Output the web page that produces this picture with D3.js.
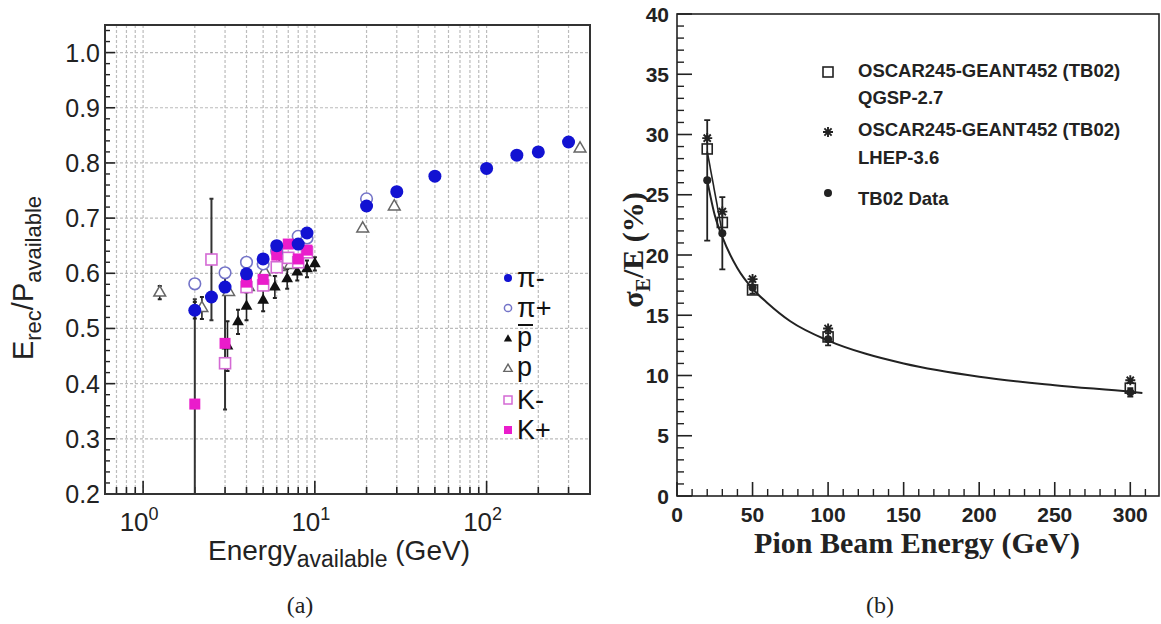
<!DOCTYPE html>
<html><head><meta charset="utf-8">
<script src="https://cdn.jsdelivr.net/npm/d3@7"></script>
<style>body{margin:0;background:#fff;} svg{display:block}</style>
</head><body>
<svg id="c" width="1161" height="624"></svg>
<script>
// ================= Panel (a) data =================
const piMinusE = [2.0, 2.5, 3.0, 4.0, 5.0, 6.0, 8.0, 9.0, 20, 30, 50, 100, 150, 200, 300];
const piMinusR = [0.533, 0.557, 0.575, 0.599, 0.626, 0.650, 0.653, 0.673, 0.722, 0.748, 0.776, 0.790, 0.814, 0.820, 0.838];
const piMinusErr = [0.015, 0, 0, 0, 0, 0, 0, 0, 0, 0, 0, 0, 0, 0, 0];

const piPlusE = [2.0, 3.0, 4.0, 5.0, 6.0, 8.0, 9.0, 20];
const piPlusR = [0.581, 0.601, 0.620, 0.617, 0.640, 0.667, 0.664, 0.735];

const pbarE = [3.1, 3.57, 4.0, 5.0, 5.85, 6.9, 7.9, 9.0, 10.0];
const pbarR = [0.468, 0.512, 0.540, 0.551, 0.575, 0.590, 0.602, 0.608, 0.617];
const pbarErr = [0.045, 0.022, 0.025, 0.02, 0.02, 0.018, 0.015, 0.015, 0.012];

const pE = [1.25, 2.2, 3.15, 4.1, 5.1, 6.2, 7.2, 19, 29, 350];
const pR = [0.565, 0.537, 0.566, 0.575, 0.602, 0.611, 0.615, 0.681, 0.721, 0.826];
const pErr = [0.012, 0.02, 0, 0, 0, 0, 0, 0, 0, 0];

const kMinusE = [2.5, 3.0, 4.0, 5.0, 6.0, 7.0, 8.0, 9.0];
const kMinusR = [0.625, 0.437, 0.575, 0.578, 0.611, 0.628, 0.620, 0.638];
const kMinusErr = [0.11, 0, 0, 0, 0, 0, 0, 0];

const kPlusE = [2.0, 3.0, 4.0, 5.0, 6.0, 7.0, 8.0, 9.0];
const kPlusR = [0.363, 0.473, 0.584, 0.589, 0.633, 0.653, 0.626, 0.642];
const kPlusErr = [0.19, 0.12, 0, 0, 0, 0, 0, 0];

const aXGrid = [0.7, 0.8, 0.9, 1, 2, 3, 4, 5, 6, 7, 8, 9, 10, 20, 30, 40, 50, 60, 70, 80, 90, 100, 200, 300];
const aXMajor = [1, 10, 100];
const aXMajorExp = ["0", "1", "2"];
const aYMajor = [0.2, 0.3, 0.4, 0.5, 0.6, 0.7, 0.8, 0.9, 1.0];
const aYMinor = [0.22,0.24,0.26,0.28,0.32,0.34,0.36,0.38,0.42,0.44,0.46,0.48,0.52,0.54,0.56,0.58,0.62,0.64,0.66,0.68,0.72,0.74,0.76,0.78,0.82,0.84,0.86,0.88,0.92,0.94,0.96,0.98,1.02,1.04];
const aLegend = ["π-", "π+", "p", "p", "K-", "K+"];

// ================= Panel (b) data =================
const bE = [20, 30, 50, 100, 300];
const qgspS = [28.8, 22.7, 17.1, 13.2, 8.95];
const lhepS = [29.7, 23.6, 18.0, 13.9, 9.6];
const tb02S = [26.2, 21.8, 17.3, 13.0, 8.6];
const tb02Err = [5.0, 3.0, 0.5, 0.5, 0.35];
const fitE = [20, 25, 30, 40, 50, 60, 75, 100, 125, 150, 200, 250, 300, 308];
const fitS = [26.2, 23.3, 21.5, 18.9, 17.2, 16.0, 14.5, 12.9, 11.8, 11.0, 9.9, 9.2, 8.65, 8.55];
const linkE = [20, 30];
const linkS = [28.6, 21.8];
const bXMajor = [0, 50, 100, 150, 200, 250, 300];
const bXMinor = [10,20,30,40,60,70,80,90,110,120,130,140,160,170,180,190,210,220,230,240,260,270,280,290,310];
const bYMajor = [0, 5, 10, 15, 20, 25, 30, 35, 40];
const bLegend = ["OSCAR245-GEANT452 (TB02)", "QGSP-2.7", "OSCAR245-GEANT452 (TB02)", "LHEP-3.6", "TB02 Data"];

const svg = d3.select("#c");
const SANS = "'Liberation Sans', Arial, Helvetica, sans-serif";
const SERIF = "'Liberation Serif', 'Times New Roman', serif";

// ================= Panel (a) =================
const xA = d3.scaleLog().domain([0.6, 400]).range([105, 590]);
const yA = d3.scaleLinear().domain([0.2, 1.05]).range([494, 25]);
const gA = svg.append("g");

gA.append("clipPath").attr("id", "clipA").append("rect")
  .attr("x", 105).attr("y", 25).attr("width", 485).attr("height", 469);

// grid
gA.append("g").selectAll("line").data(aXGrid).join("line")
  .attr("x1", d => xA(d)).attr("x2", d => xA(d)).attr("y1", 25).attr("y2", 494)
  .attr("stroke", "#bcbcbc").attr("stroke-width", 1.2).attr("stroke-dasharray", "3,2");
gA.append("g").selectAll("line").data(aYMajor.slice(1)).join("line")
  .attr("x1", 105).attr("x2", 590).attr("y1", d => yA(d)).attr("y2", d => yA(d))
  .attr("stroke", "#bcbcbc").attr("stroke-width", 1.2).attr("stroke-dasharray", "3,2");

// ticks (inward)
gA.append("g").selectAll("line").data(aXGrid).join("line")
  .attr("x1", d => xA(d)).attr("x2", d => xA(d))
  .attr("y1", 494).attr("y2", d => aXMajor.includes(d) ? 481 : 487)
  .attr("stroke", "#222").attr("stroke-width", 1.6);
gA.append("g").selectAll("line").data(aYMajor).join("line")
  .attr("x1", 105).attr("x2", 115).attr("y1", d => yA(d)).attr("y2", d => yA(d))
  .attr("stroke", "#222").attr("stroke-width", 1.6);
gA.append("g").selectAll("line").data(aYMinor).join("line")
  .attr("x1", 105).attr("x2", 110).attr("y1", d => yA(d)).attr("y2", d => yA(d))
  .attr("stroke", "#222").attr("stroke-width", 1.4);

// tick labels
gA.append("g").selectAll("text").data(aYMajor).join("text")
  .attr("x", 100).attr("y", d => yA(d) + 9).attr("text-anchor", "end")
  .attr("font-family", SANS).attr("font-size", 25).attr("fill", "#222")
  .text(d => d.toFixed(1));
const xl = gA.append("g").selectAll("text").data(aXMajor).join("text")
  .attr("x", d => xA(d) - 4).attr("y", 531).attr("text-anchor", "middle")
  .attr("font-family", SANS).attr("font-size", 26).attr("fill", "#222");
xl.append("tspan").text("10");
xl.append("tspan").attr("dy", -11).attr("font-size", 18).text((d, i) => aXMajorExp[i]);

// axis titles
const xt = gA.append("text").attr("x", 339).attr("y", 560).attr("text-anchor", "middle")
  .attr("font-family", SANS).attr("font-size", 28).attr("fill", "#222");
xt.append("tspan").text("Energy");
xt.append("tspan").attr("dy", 7).attr("font-size", 23).text("available");
xt.append("tspan").attr("dy", -7).text(" (GeV)");

const yt = gA.append("text").attr("transform", "translate(33,278) rotate(-90)")
  .attr("text-anchor", "middle").attr("font-family", SANS).attr("font-size", 29).attr("fill", "#222");
yt.append("tspan").text("E");
yt.append("tspan").attr("dy", 8).attr("font-size", 22).text("rec");
yt.append("tspan").attr("dy", -8).text("/P");
yt.append("tspan").attr("dy", 8).attr("font-size", 22).text("available");

// data
const plotA = gA.append("g").attr("clip-path", "url(#clipA)");
function errBars(g, E, R, Err, color, w) {
  const idx = d3.range(E.length).filter(i => Err[i] > 0);
  g.append("g").selectAll("line").data(idx).join("line")
    .attr("x1", i => xA(E[i])).attr("x2", i => xA(E[i]))
    .attr("y1", i => yA(R[i] - Err[i])).attr("y2", i => yA(R[i] + Err[i]))
    .attr("stroke", color).attr("stroke-width", w);
  g.append("g").selectAll("path").data(idx).join("path")
    .attr("d", i => `M${xA(E[i]) - 2},${yA(R[i] - Err[i])}h4M${xA(E[i]) - 2},${yA(R[i] + Err[i])}h4`)
    .attr("stroke", color).attr("stroke-width", 2);
}
errBars(plotA, kPlusE, kPlusR, kPlusErr, "#333", 2);
errBars(plotA, kMinusE, kMinusR, kMinusErr, "#333", 2);
errBars(plotA, pbarE, pbarR, pbarErr, "#222", 1.6);
errBars(plotA, pE, pR, pErr, "#222", 1.6);
errBars(plotA, piMinusE, piMinusR, piMinusErr, "#222", 1.6);

const tri = d3.symbol().type(d3.symbolTriangle).size(60);
const triL = d3.symbol().type(d3.symbolTriangle).size(30);

plotA.append("g").selectAll("path").data(pE).join("path")
  .attr("transform", (d, i) => `translate(${xA(d)},${yA(pR[i])})`).attr("d", tri)
  .attr("fill", "#fff").attr("stroke", "#666").attr("stroke-width", 1.5);
plotA.append("g").selectAll("path").data(pbarE).join("path")
  .attr("transform", (d, i) => `translate(${xA(d)},${yA(pbarR[i])})`).attr("d", tri)
  .attr("fill", "#111");
plotA.append("g").selectAll("rect").data(kMinusE).join("rect")
  .attr("x", d => xA(d) - 5.5).attr("y", (d, i) => yA(kMinusR[i]) - 5.5)
  .attr("width", 11).attr("height", 11)
  .attr("fill", "#fff").attr("stroke", "#d46ad4").attr("stroke-width", 1.6);
plotA.append("g").selectAll("circle").data(piPlusE).join("circle")
  .attr("cx", d => xA(d)).attr("cy", (d, i) => yA(piPlusR[i])).attr("r", 5.8)
  .attr("fill", "#fff").attr("stroke", "#7474c8").attr("stroke-width", 1.6);
plotA.append("g").selectAll("rect").data(kPlusE).join("rect")
  .attr("x", d => xA(d) - 5.5).attr("y", (d, i) => yA(kPlusR[i]) - 5.5)
  .attr("width", 11).attr("height", 11).attr("fill", "#ea1ccb");
plotA.append("g").selectAll("circle").data(piMinusE).join("circle")
  .attr("cx", d => xA(d)).attr("cy", (d, i) => yA(piMinusR[i])).attr("r", 6.5)
  .attr("fill", "#1212d2");

// frame
gA.append("rect").attr("x", 105).attr("y", 25).attr("width", 485).attr("height", 469)
  .attr("fill", "none").attr("stroke", "#333").attr("stroke-width", 2);

// legend
const legY = [278, 308, 339, 369, 400, 430];
const lg = gA.append("g");
lg.append("circle").attr("cx", 508).attr("cy", legY[0]).attr("r", 4).attr("fill", "#1212d2");
lg.append("circle").attr("cx", 508).attr("cy", legY[1]).attr("r", 3.6).attr("fill", "#fff").attr("stroke", "#7474c8").attr("stroke-width", 1.5);
lg.append("path").attr("transform", `translate(508,${legY[2]})`).attr("d", triL).attr("fill", "#111");
lg.append("path").attr("transform", `translate(508,${legY[3]})`).attr("d", triL).attr("fill", "#fff").attr("stroke", "#666").attr("stroke-width", 1.4);
lg.append("rect").attr("x", 504).attr("y", legY[4] - 4).attr("width", 8).attr("height", 8).attr("fill", "#fff").attr("stroke", "#d46ad4").attr("stroke-width", 1.5);
lg.append("rect").attr("x", 504).attr("y", legY[5] - 4).attr("width", 8).attr("height", 8).attr("fill", "#ea1ccb");
lg.selectAll("text").data(aLegend).join("text")
  .attr("x", 517).attr("y", (d, i) => legY[i] + (i === 2 || i === 3 ? 7 : 9))
  .attr("font-family", SANS).attr("font-size", 27).attr("fill", "#111")
  .text(d => d);
lg.append("line").attr("x1", 518).attr("x2", 533).attr("y1", legY[2] - 14).attr("y2", legY[2] - 14)
  .attr("stroke", "#111").attr("stroke-width", 2);

svg.append("text").attr("x", 300).attr("y", 613).attr("text-anchor", "middle")
  .attr("font-family", SERIF).attr("font-size", 24).attr("fill", "#222").text("(a)");

// ================= Panel (b) =================
const xB = d3.scaleLinear().domain([0, 319]).range([677, 1159]);
const yB = d3.scaleLinear().domain([0, 40]).range([496, 14]);
const gB = svg.append("g");
const bYMinor = d3.range(0, 41).filter(v => v % 5 !== 0);

gB.append("g").selectAll("line").data(bXMajor).join("line")
  .attr("x1", d => xB(d)).attr("x2", d => xB(d)).attr("y1", 496).attr("y2", 482)
  .attr("stroke", "#222").attr("stroke-width", 1.6);
gB.append("g").selectAll("line").data(bXMinor).join("line")
  .attr("x1", d => xB(d)).attr("x2", d => xB(d)).attr("y1", 496).attr("y2", 489)
  .attr("stroke", "#222").attr("stroke-width", 1.4);
gB.append("g").selectAll("line").data(bYMajor).join("line")
  .attr("x1", 677).attr("x2", 692).attr("y1", d => yB(d)).attr("y2", d => yB(d))
  .attr("stroke", "#222").attr("stroke-width", 1.6);
gB.append("g").selectAll("line").data(bYMinor).join("line")
  .attr("x1", 677).attr("x2", 684).attr("y1", d => yB(d)).attr("y2", d => yB(d))
  .attr("stroke", "#222").attr("stroke-width", 1.4);

gB.append("g").selectAll("text").data(bXMajor).join("text")
  .attr("x", d => xB(d)).attr("y", 522).attr("text-anchor", "middle")
  .attr("font-family", SANS).attr("font-weight", "bold").attr("font-size", 21).attr("fill", "#222")
  .text(d => d);
gB.append("g").selectAll("text").data(bYMajor).join("text")
  .attr("x", 669).attr("y", d => yB(d) + 7.5).attr("text-anchor", "end")
  .attr("font-family", SANS).attr("font-weight", "bold").attr("font-size", 21).attr("fill", "#222")
  .text(d => d);

gB.append("text").attr("x", 917).attr("y", 553).attr("text-anchor", "middle")
  .attr("font-family", SERIF).attr("font-weight", "bold").attr("font-size", 30).attr("fill", "#222")
  .text("Pion Beam Energy (GeV)");
const ytB = gB.append("text").attr("transform", "translate(643,250) rotate(-90)")
  .attr("text-anchor", "middle").attr("font-family", SERIF).attr("font-weight", "bold")
  .attr("font-size", 30).attr("fill", "#222");
ytB.append("tspan").text("σ");
ytB.append("tspan").attr("dy", 7).attr("font-size", 20).text("E");
ytB.append("tspan").attr("dy", -7).text("/E (%)");

// curves
const lineB = d3.line().x(d => xB(d[0])).y(d => yB(d[1])).curve(d3.curveMonotoneX);
gB.append("path").attr("d", lineB(fitE.map((e, i) => [e, fitS[i]])))
  .attr("fill", "none").attr("stroke", "#222").attr("stroke-width", 2);
gB.append("path").attr("d", d3.line().x(d => xB(d[0])).y(d => yB(d[1]))(linkE.map((e, i) => [e, linkS[i]])))
  .attr("fill", "none").attr("stroke", "#222").attr("stroke-width", 1.6);

// error bars TB02
gB.append("g").selectAll("path").data(bE).join("path")
  .attr("d", (d, i) => `M${xB(d)},${yB(tb02S[i] - tb02Err[i])}V${yB(tb02S[i] + tb02Err[i])}` +
    `M${xB(d) - 3},${yB(tb02S[i] - tb02Err[i])}h6M${xB(d) - 3},${yB(tb02S[i] + tb02Err[i])}h6`)
  .attr("stroke", "#222").attr("stroke-width", 1.8).attr("fill", "none");

// markers
const star = "M-5,0H5M0,-5V5M-3.6,-3.6L3.6,3.6M-3.6,3.6L3.6,-3.6";
gB.append("g").selectAll("path").data(bE).join("path")
  .attr("transform", (d, i) => `translate(${xB(d)},${yB(lhepS[i])})`).attr("d", star)
  .attr("stroke", "#222").attr("stroke-width", 1.9).attr("fill", "none");
gB.append("g").selectAll("rect").data(bE).join("rect")
  .attr("x", d => xB(d) - 5).attr("y", (d, i) => yB(qgspS[i]) - 5)
  .attr("width", 10).attr("height", 10).attr("fill", "none").attr("stroke", "#222").attr("stroke-width", 1.6);
gB.append("g").selectAll("circle").data(bE).join("circle")
  .attr("cx", d => xB(d)).attr("cy", (d, i) => yB(tb02S[i])).attr("r", 4).attr("fill", "#222");

// frame
gB.append("rect").attr("x", 677).attr("y", 14).attr("width", 482).attr("height", 482)
  .attr("fill", "none").attr("stroke", "#222").attr("stroke-width", 1.6);

// legend
gB.append("rect").attr("x", 823).attr("y", 67).attr("width", 10).attr("height", 10)
  .attr("fill", "none").attr("stroke", "#222").attr("stroke-width", 1.6);
gB.append("path").attr("transform", "translate(828,132)").attr("d", star)
  .attr("stroke", "#222").attr("stroke-width", 1.9).attr("fill", "none");
gB.append("circle").attr("cx", 828).attr("cy", 193).attr("r", 4).attr("fill", "#222");
const bLegY = [77, 104, 136, 164, 205];
gB.append("g").selectAll("text").data(bLegend).join("text")
  .attr("x", 858).attr("y", (d, i) => bLegY[i])
  .attr("font-family", SANS).attr("font-weight", "bold").attr("font-size", 18.5).attr("fill", "#222")
  .text(d => d);

svg.append("text").attr("x", 880).attr("y", 613).attr("text-anchor", "middle")
  .attr("font-family", SERIF).attr("font-size", 24).attr("fill", "#222").text("(b)");
</script>
</body></html>
